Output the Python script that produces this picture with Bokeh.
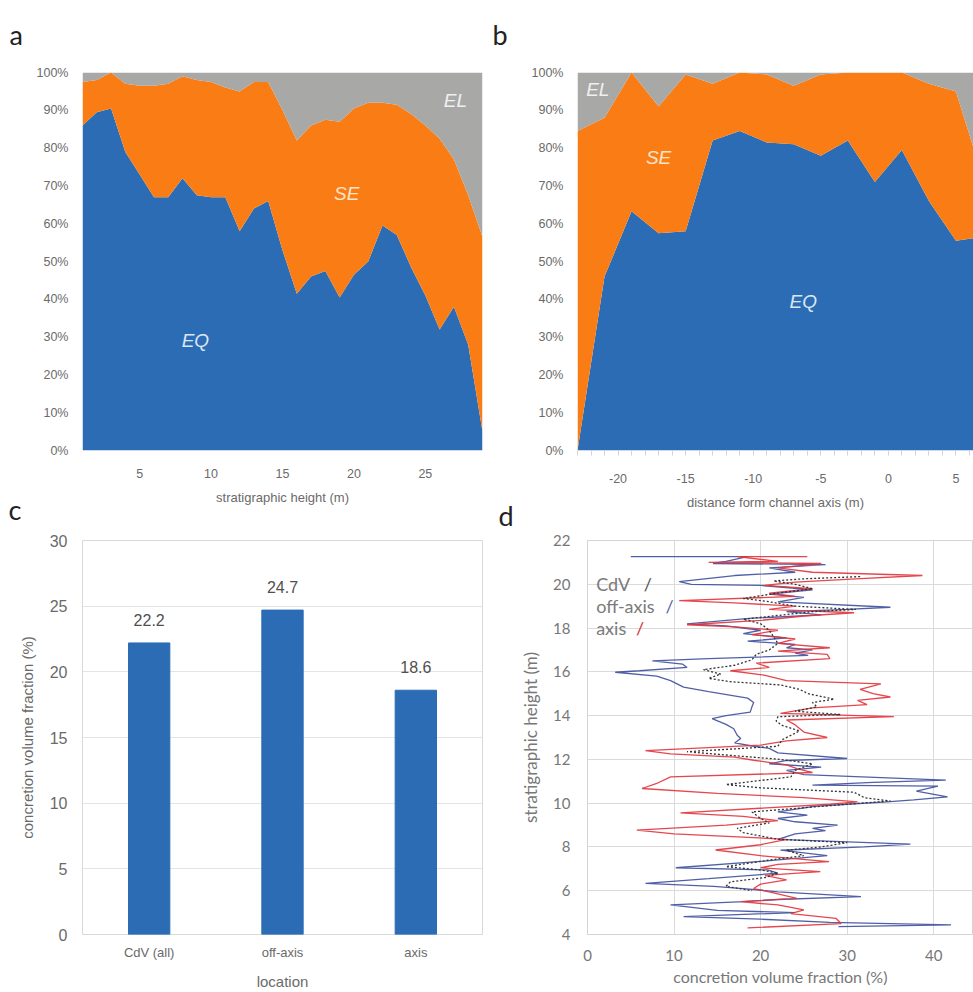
from bokeh.plotting import figure
from bokeh.layouts import row, column
from bokeh.models import (Label, FixedTicker, Range1d, FactorRange,
                          PrintfTickFormatter, ColumnDataSource)
from bokeh.core.properties import value
from bokeh.embed import file_html
from bokeh.resources import INLINE

# ---------------- data ----------------
# panel a : composition vs stratigraphic height (%)
a_height = list(range(1, 30))
a_eq = [86, 89.5, 90.5, 79, 73, 67, 67, 72, 67.5, 67, 67, 58, 64, 66, 53,
        41.5, 46, 47.5, 40.5, 46.5, 50, 59.5, 57, 48.5, 41, 32, 38, 28, 5]
a_se = [11.5, 8.5, 9.5, 18, 23.5, 29.5, 30, 27, 30.5, 30.5, 29, 37, 33.5, 31.5, 37,
        40.5, 40, 40, 46.5, 44, 42, 32.5, 34.5, 40.5, 45, 50.5, 39, 39.5, 51.5]
a_ticks = [5, 10, 15, 20, 25]

# panel b : composition vs distance from channel axis (%)
b_dist = [-23, -21, -19, -17, -15, -13, -11, -9, -7, -5, -3, -1, 1, 3, 5, 7]
b_eq = [0, 46, 63.3, 57.5, 58, 82, 84.5, 81.5, 81, 78, 82, 71, 79.5, 66, 55.5, 56.5]
b_se = [84.5, 42, 36.7, 33.5, 41.5, 15, 15.5, 18, 15.5, 21.5, 18, 29, 20.5, 31, 39.5, 15.5]
b_ticks = [-20, -15, -10, -5, 0, 5]

# panel c : mean concretion volume fraction
c_location = ["CdV (all)", "off-axis", "axis"]
c_fraction = [22.2, 24.7, 18.6]

# panel d : profiles (height m, fraction %)
d_off_h = [21.26, 21.26, 21.05, 20.95, 20.9, 20.75, 20.55, 20.4, 20.12, 20.0, 19.95, 19.75,
           19.55, 19.4, 19.2, 18.95, 18.85, 18.75, 18.6, 18.45, 18.19, 18.1, 17.9, 17.75,
           17.55, 17.4, 17.25, 17.1, 17.0, 16.85, 16.75, 16.6, 16.5, 16.35, 16.2, 16.05,
           15.98, 15.8, 15.6, 15.3, 15.1, 14.8, 14.6, 14.4, 14.16, 14.0, 13.86, 13.6, 13.4,
           13.1, 12.95, 12.75, 12.6, 12.5, 12.3, 12.04, 11.95, 11.8, 11.65, 11.5, 11.3,
           11.05, 10.95, 10.82, 10.78, 10.55, 10.29, 10.15, 10.06, 9.95, 9.85, 9.6, 9.45,
           9.3, 9.15, 9.0, 8.85, 8.75, 8.6, 8.35, 8.13, 8.0, 7.85, 7.6, 7.35, 7.05, 6.95,
           6.8, 6.55, 6.34, 6.2, 6.1, 5.95, 5.73, 5.6, 5.5, 5.35, 5.1, 5.0, 4.82, 4.7,
           4.55, 4.44, 4.36]
d_off_v = [5.0, 18.5, 16, 14.5, 27.5, 21, 24, 17, 10.6, 12, 20, 26,
           21, 25, 22, 35, 30, 23, 27, 19, 11.5, 16, 20, 18,
           23, 18.5, 24, 23, 26, 24, 25.5, 14, 7.5, 11, 11.5, 6,
           3.2, 8, 9.6, 11.1, 14, 18.5, 19.2, 19, 18.8, 16, 14.4, 16, 16.9,
           17.3, 17.7, 17, 19.2, 21, 22, 30, 23, 21, 27, 23, 25,
           41.4, 33, 26, 40.5, 38, 41.6, 37.7, 34.6, 30, 26.2, 22, 25.4,
           22, 24, 28.9, 26, 27.5, 24, 22, 37.3, 32, 22.3, 27.7, 20.4, 10.2, 20.8,
           22, 14, 6.7, 14.6, 18, 22, 31.6, 22, 18, 9.6, 15, 24, 11.1, 20,
           28, 42, 29]
d_axis_h = [21.26, 21.26, 21.05, 21.0, 20.95, 20.75, 20.55, 20.4, 20.25, 20.1, 19.95, 19.8,
            19.6, 19.45, 19.25, 19.15, 19.0, 18.85, 18.7, 18.55, 18.35, 18.15, 18.05, 17.9,
            17.7, 17.5, 17.3, 17.1, 16.95, 16.8, 16.6, 16.4, 16.2, 16.05, 15.85, 15.6,
            15.45, 15.2, 15.0, 14.85, 14.7, 14.5, 14.35, 14.1, 13.95, 13.8, 13.6, 13.25,
            13.0, 12.85, 12.65, 12.4, 12.25, 12.1, 11.96, 11.75, 11.58, 11.4, 11.2, 10.9,
            10.67, 10.45, 10.25, 10.06, 9.95, 9.56, 9.4, 9.2, 9.0, 8.77, 8.6, 8.45, 8.35,
            8.1, 7.86, 7.6, 7.33, 7.2, 7.05, 6.87, 6.7, 6.5, 6.3, 6.1, 5.95, 5.65, 5.5,
            5.35, 5.12, 4.95, 4.74, 4.5, 4.3]
d_axis_v = [25.4, 17.3, 22, 14, 27, 22, 26, 38.7, 31, 24, 20.4, 26,
            21, 24, 10.6, 17, 24, 21, 30.8, 25, 20, 11.5, 17, 22,
            19, 24, 22, 28, 22, 27.7, 28, 19.5, 21, 16.5, 20.4, 23,
            33.9, 31.5, 33, 35, 31.2, 32.3, 26, 22.3, 35.4, 23, 23.9, 25,
            27.7, 23, 20, 6.7, 9.6, 17, 19.2, 23, 24.2, 26, 9.6, 8,
            6.3, 15, 25, 31.2, 28, 10.75, 18, 22, 16, 5.7, 10, 18, 23,
            20, 14.8, 20, 27.9, 22, 20, 26.9, 20.5, 23, 20, 19.2, 21, 24.2, 17.7,
            22, 25, 23.5, 28.7, 29.3, 18.5]
d_cdv_h = [20.35, 20.25, 20.15, 20.0, 19.8, 19.6, 19.35, 19.2, 19.0, 18.85, 18.75, 18.4,
           18.2, 17.9, 17.6, 17.3, 17.0, 16.8, 16.55, 16.3, 16.1, 15.9, 15.7, 15.55,
           15.4, 15.2, 15.0, 14.75, 14.6, 14.4, 14.2, 14.05, 13.95, 13.75, 13.55, 13.3,
           13.1, 12.9, 12.6, 12.35, 12.2, 12.0, 11.8, 11.5, 11.2, 10.85, 10.7, 10.5,
           10.25, 10.1, 9.95, 9.6, 9.3, 9.1, 8.85, 8.65, 8.35, 8.2, 8.0, 7.85, 7.6,
           7.4, 7.1, 6.95, 6.8, 6.6, 6.4, 6.2, 6.0]
d_cdv_v = [31.5, 25, 21.5, 24, 26, 22, 18, 21, 24, 31, 26, 18,
           20, 21, 21.5, 22, 21, 19.5, 19, 17, 13.4, 15.4, 14, 16.5,
           22.3, 24.5, 25.5, 28.5, 26, 26.5, 24, 29.2, 22, 21.8, 22.5, 24.5,
           23.5, 22.5, 22, 11.5, 16, 22.3, 26, 24, 23.5, 16, 20, 30.8,
           32, 35, 30, 19, 20, 21, 17.3, 18, 22, 30, 27, 23, 25,
           21, 16, 20, 22, 20.5, 16.5, 16, 19]
d_xticks = [0, 10, 20, 30, 40]
d_yticks = [4, 6, 8, 10, 12, 14, 16, 18, 20, 22]
d_legend = ["CdV", "off-axis", "axis"]

# ---------------- styling ----------------
EQ_C, SE_C, EL_C = "#2b6cb5", "#f97c15", "#a8a8a6"
SANS = "Liberation Sans"
HUM = "Lato"
TICK_C = "#6a6a6a"


def base_fig(w, h, left, right, top, bottom, xr, yr):
    p = figure(width=w, height=h, x_range=xr, y_range=yr,
               output_backend="svg", toolbar_location=None,
               min_border_left=left, min_border_right=right,
               min_border_top=top, min_border_bottom=bottom)
    p.background_fill_color = "white"
    p.border_fill_color = "white"
    return p


def style_axes(p, font, size, color):
    for ax in (p.xaxis[0], p.yaxis[0]):
        ax.major_label_text_font = font
        ax.major_label_text_font_size = size
        ax.major_label_text_color = color
        ax.axis_label_text_font = font
        ax.axis_label_text_font_style = "normal"
        ax.axis_label_text_color = color
        ax.major_tick_line_color = None
        ax.minor_tick_line_color = None
        ax.major_tick_out = 0
        ax.major_tick_in = 0
        ax.minor_tick_out = 0
        ax.minor_tick_in = 0
        ax.axis_line_color = None


def letter(p, txt, offset, standoff):
    p.title.text = txt
    p.title.align = "left"
    p.title.offset = offset
    p.title.standoff = standoff
    p.title.text_font = HUM
    p.title.text_font_size = "27px"
    p.title.text_font_style = "normal"
    p.title.text_color = "#222222"


def area_label(p, txt, x, y, color):
    p.add_layout(Label(x=x, y=y, text=txt, text_font=SANS, text_font_size="19px",
                       text_font_style="italic", text_color=color,
                       text_align="center", text_baseline="middle"))


TOPCUT = 10   # first row is shifted up by this much (blank space only)

# ---------------- panel a ----------------
src_a = ColumnDataSource(dict(x=a_height, eq=a_eq, se=a_se,
                              el=[100 - e - s for e, s in zip(a_eq, a_se)]))
pa = base_fig(490, 522 + TOPCUT, 82, 8, 72 + TOPCUT, 72, Range1d(1, 29), Range1d(0, 100))
pa.margin = (-TOPCUT, 0, 0, 0)
pa.varea_stack(["eq", "se", "el"], x="x", source=src_a, color=[EQ_C, SE_C, EL_C])
pa.outline_line_color = None
pa.grid.visible = False
style_axes(pa, SANS, "12.5px", TICK_C)
pa.xaxis.ticker = FixedTicker(ticks=a_ticks)
pa.yaxis.ticker = FixedTicker(ticks=list(range(0, 101, 10)))
pa.yaxis.formatter = PrintfTickFormatter(format="%d%%")
pa.xaxis.major_label_standoff = 18
pa.yaxis.major_label_standoff = 14
pa.xaxis.axis_label = "stratigraphic height (m)"
pa.xaxis.axis_label_text_font_size = "13px"
pa.xaxis.axis_label_standoff = 9
area_label(pa, "EQ", 8.9, 29, "#dbe6f3")
area_label(pa, "SE", 19.5, 68, "#fde3c8")
area_label(pa, "EL", 27.1, 92.6, "#f0f0f0")
letter(pa, "a", -73, 44)

# ---------------- panel b ----------------
src_b = ColumnDataSource(dict(x=b_dist, eq=b_eq, se=b_se,
                              el=[100 - e - s for e, s in zip(b_eq, b_se)]))
pb = base_fig(483, 522 + TOPCUT, 87, 0, 72 + TOPCUT, 72, Range1d(-23, 6.3), Range1d(0, 100))
pb.margin = (-TOPCUT, 0, 0, 0)
pb.varea_stack(["eq", "se", "el"], x="x", source=src_b, color=[EQ_C, SE_C, EL_C])
pb.outline_line_color = None
pb.grid.visible = False
style_axes(pb, SANS, "12.5px", TICK_C)
pb.xaxis.ticker = FixedTicker(ticks=b_ticks, minor_ticks=list(range(-23, 7)))
pb.xaxis.formatter = PrintfTickFormatter(format="%d")
pb.xaxis.minor_tick_line_color = "#d4d4d4"
pb.xaxis.minor_tick_out = 5
pb.yaxis.ticker = FixedTicker(ticks=list(range(0, 101, 10)))
pb.yaxis.formatter = PrintfTickFormatter(format="%d%%")
pb.xaxis.major_label_standoff = 18
pb.yaxis.major_label_standoff = 14
pb.xaxis.axis_label = "distance form channel axis (m)"
pb.xaxis.axis_label_text_font_size = "13px"
pb.xaxis.axis_label_standoff = 9
area_label(pb, "EL", -21.5, 95.5, "#f0f0f0")
area_label(pb, "SE", -17.0, 77.5, "#fde3c8")
area_label(pb, "EQ", -6.3, 39.5, "#dbe6f3")
letter(pb, "b", -85, 44)

# ---------------- panel c ----------------
OVER = 47   # second row starts this many px above the first row's bottom edge
H2 = 992 - (522 - OVER)
pc = base_fig(490, H2, 82, 8, 64, 58, FactorRange(*c_location), Range1d(0, 30))
pc.margin = (-OVER, 0, 0, 0)
pc.border_fill_color = None
pc.vbar(x=c_location, top=c_fraction, width=0.31, color=EQ_C)
pc.text(x=c_location, y=c_fraction, text=[f"{v:.1f}" for v in c_fraction],
        y_offset=-17, text_align="center", text_baseline="bottom",
        text_font_size=value("16px"), text_color="#505050", text_font=value(SANS))
pc.outline_line_color = "#d9d9d9"
pc.xgrid.visible = False
pc.ygrid.grid_line_color = "#e4e4e4"
pc.ygrid.ticker = FixedTicker(ticks=[5, 10, 15, 20, 25])
style_axes(pc, SANS, "16px", TICK_C)
pc.xaxis.major_label_text_font_size = "13px"
pc.yaxis.ticker = FixedTicker(ticks=[0, 5, 10, 15, 20, 25, 30])
pc.xaxis.major_label_standoff = 10
pc.yaxis.major_label_standoff = 15
pc.xaxis.axis_label = "location"
pc.xaxis.axis_label_text_font_size = "15px"
pc.xaxis.axis_label_standoff = 10
pc.yaxis.axis_label = "concretion volume fraction (%)"
pc.yaxis.axis_label_text_font_size = "15px"
pc.yaxis.axis_label_standoff = 11
letter(pc, "c", -74, 30)

# ---------------- panel d ----------------
pd_ = base_fig(483, H2, 97, 0, 64, 58, Range1d(0, 44.6), Range1d(4, 22))
pd_.margin = (-OVER, 0, 0, 0)
pd_.border_fill_color = None
pd_.line(d_off_v, d_off_h, line_color="#3d4f9f", line_width=1.3, line_alpha=0.9)
pd_.line(d_axis_v, d_axis_h, line_color="#e2333b", line_width=1.3, line_alpha=0.9)
pd_.line(d_cdv_v, d_cdv_h, line_color="#333333", line_width=1.3, line_dash="2 2")
pd_.outline_line_color = "#d4d4d4"
pd_.xgrid.ticker = FixedTicker(ticks=d_xticks)
pd_.ygrid.ticker = FixedTicker(ticks=d_yticks)
pd_.grid.grid_line_color = "#dadada"
style_axes(pd_, HUM, "15px", "#777777")
pd_.xaxis.ticker = FixedTicker(ticks=d_xticks)
pd_.yaxis.ticker = FixedTicker(ticks=d_yticks)
pd_.xaxis.major_label_standoff = 15
pd_.yaxis.major_label_standoff = 17
pd_.xaxis.axis_label = "concretion volume fraction (%)"
pd_.xaxis.axis_label_text_font_size = "16px"
pd_.xaxis.axis_label_standoff = 3
pd_.yaxis.axis_label = "stratigraphic height (m)"
pd_.yaxis.axis_label_text_font_size = "17px"
pd_.yaxis.axis_label_standoff = 9
# legend: label text followed by a small slash in the series colour
for txt, hy, sx, scol in zip(d_legend, (20.0, 19.0, 18.0), (6.5, 9.0, 5.6),
                             ("#555555", "#5a66a8", "#d8323a")):
    pd_.add_layout(Label(x=1.0, y=hy, text=txt, text_font=HUM, text_font_size="18px",
                         text_color="#7a7a7a", text_baseline="middle"))
    pd_.add_layout(Label(x=sx, y=hy, text="/", text_font=HUM, text_font_size="18px",
                         text_color=scol, text_baseline="middle"))
letter(pd_, "d", -89, 18)

layout = column(row(pa, pb), row(pc, pd_))
open("out.html", "w").write(file_html(layout, INLINE))
